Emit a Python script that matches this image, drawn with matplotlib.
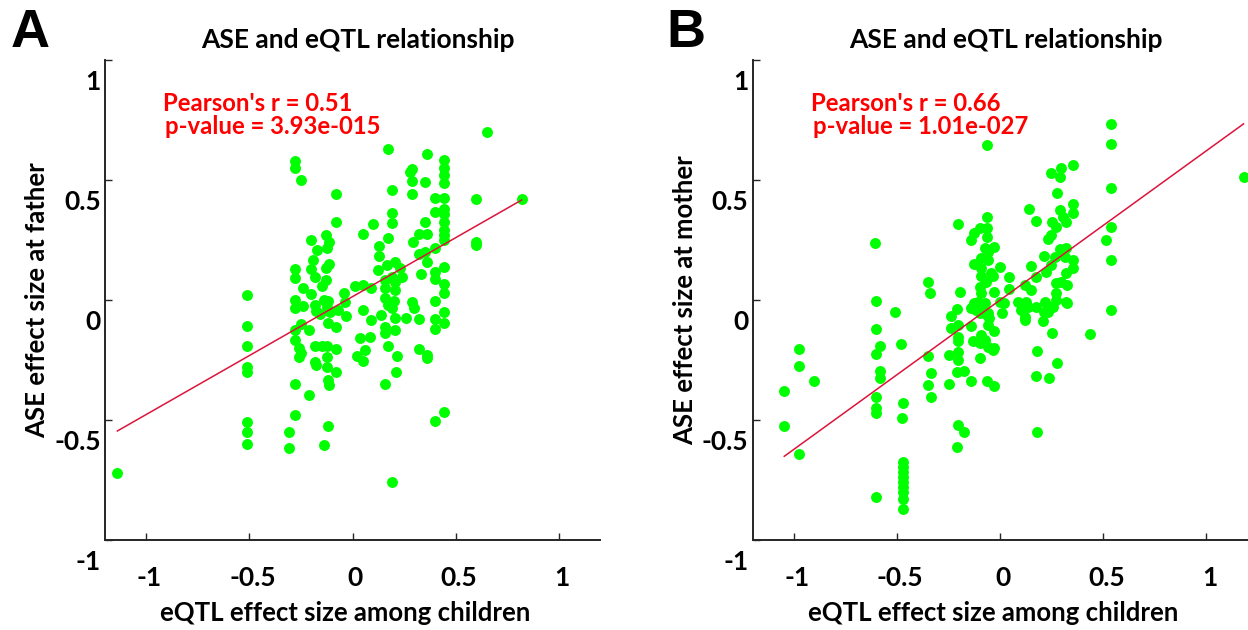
import numpy as np
import matplotlib
matplotlib.use("Agg")
import matplotlib.pyplot as plt
from matplotlib.transforms import ScaledTranslation

plt.rcParams['font.family'] = ['Lato', 'DejaVu Sans']
plt.rcParams['font.weight'] = 'bold'

# ---- data ----
# (eQTL effect among children, ASE effect at father)
father_pts = np.array([
    (-1.14, -0.72), (0.19, -0.76), (0.82, 0.42), (0.65, 0.70),
    (0.60, 0.42), (0.60, 0.24), (0.60, 0.23),
    (-0.51, 0.02), (-0.51, -0.11), (-0.51, -0.19), (-0.51, -0.28), (-0.51, -0.30),
    (-0.51, -0.51), (-0.51, -0.55), (-0.51, -0.60),
    (-0.31, -0.55), (-0.31, -0.615),
    (-0.28, 0.58), (-0.28, 0.55), (-0.25, 0.50),
    (-0.28, 0.13), (-0.28, 0.09), (-0.24, 0.05), (-0.28, 0.00), (-0.28, -0.035),
    (-0.24, -0.025), (-0.25, -0.10), (-0.28, -0.125), (-0.28, -0.167), (-0.26, -0.20),
    (-0.25, -0.22), (-0.26, -0.236), (-0.28, -0.35), (-0.28, -0.48),
    (-0.20, 0.25), (-0.13, 0.27), (-0.115, 0.24), (-0.126, 0.215), (-0.17, 0.21),
    (-0.19, 0.167), (-0.20, 0.13), (-0.115, 0.15), (-0.13, 0.135), (-0.18, 0.097),
    (-0.13, 0.083), (-0.15, 0.06), (-0.20, 0.024), (-0.14, 0.00), (-0.12, -0.004),
    (-0.18, -0.02), (-0.175, -0.045), (-0.13, -0.007), (-0.126, -0.028), (-0.16, -0.06),
    (-0.11, -0.05), (-0.07, -0.04), (-0.037, -0.007), (-0.03, -0.067), (-0.12, -0.097),
    (-0.08, -0.114), (-0.21, -0.125),
    (-0.18, -0.19), (-0.15, -0.19), (-0.126, -0.19), (-0.18, -0.257), (-0.175, -0.27),
    (-0.126, -0.236), (-0.126, -0.278), (-0.08, -0.204), (-0.08, -0.30), (-0.12, -0.333),
    (-0.115, -0.354), (-0.21, -0.396), (-0.12, -0.525), (-0.137, -0.604),
    (-0.08, 0.44), (-0.08, 0.326),
    (-0.04, 0.03), (0.01, 0.058), (0.05, 0.063), (0.09, 0.049),
    (0.17, 0.63), (0.36, 0.61),
    (0.29, 0.545), (0.28, 0.535), (0.29, 0.496), (0.29, 0.44), (0.35, 0.493),
    (0.19, 0.458), (0.19, 0.364), (0.19, 0.322),
    (0.10, 0.317), (0.05, 0.274), (0.17, 0.257), (0.13, 0.226), (0.13, 0.185),
    (0.125, 0.125), (0.165, 0.146), (0.205, 0.16), (0.23, 0.132), (0.24, 0.097),
    (0.19, 0.097), (0.157, 0.083), (0.205, 0.076), (0.205, 0.042), (0.157, 0.049),
    (0.157, 0.007), (0.20, -0.004),
    (0.40, 0.424), (0.40, 0.368), (0.35, 0.326), (0.32, 0.274), (0.36, 0.274),
    (0.295, 0.24), (0.40, 0.218), (0.32, 0.19), (0.35, 0.20), (0.36, 0.16), (0.33, 0.107),
    (0.40, 0.118), (0.40, 0.088), (0.29, -0.007), (0.40, -0.004),
    (0.445, 0.583), (0.445, 0.551), (0.445, 0.521), (0.445, 0.486), (0.445, 0.426),
    (0.445, 0.379), (0.445, 0.357), (0.445, 0.324), (0.445, 0.292), (0.445, 0.271),
    (0.445, 0.25), (0.445, 0.139), (0.445, 0.067), (0.445, 0.03), (0.445, -0.049),
    (0.445, -0.097), (0.445, -0.465),
    (0.40, -0.079), (0.40, -0.121), (0.40, -0.504),
    (0.05, -0.042), (0.09, -0.083), (0.14, -0.063), (0.17, -0.021), (0.19, -0.032),
    (0.157, -0.111), (0.157, -0.136), (0.205, -0.074), (0.205, -0.125), (0.26, -0.074),
    (0.30, -0.032), (0.32, -0.079),
    (0.036, -0.16), (0.084, -0.155), (0.06, -0.208), (0.02, -0.232), (0.05, -0.253),
    (0.17, -0.19), (0.217, -0.233), (0.21, -0.30), (0.157, -0.351), (0.32, -0.204),
    (0.36, -0.229), (0.36, -0.243),
])

# (eQTL effect among children, ASE effect at mother)
mother_pts = np.array([
    (-1.047, -0.378), (-1.047, -0.525), (-0.974, -0.205), (-0.974, -0.275),
    (-0.904, -0.336), (-0.974, -0.643),
    (-0.605, 0.239), (-0.60, -0.005), (-0.60, -0.121), (-0.585, -0.192), (-0.60, -0.226),
    (-0.585, -0.296), (-0.585, -0.324), (-0.60, -0.403), (-0.60, -0.449), (-0.60, -0.472),
    (-0.60, -0.82),
    (-0.51, -0.049), (-0.48, -0.185), (-0.472, -0.431), (-0.476, -0.49),
    (-0.472, -0.674), (-0.472, -0.694), (-0.472, -0.715), (-0.472, -0.736),
    (-0.472, -0.757), (-0.472, -0.778), (-0.472, -0.799), (-0.472, -0.83), (-0.472, -0.872),
    (-0.35, 0.076), (-0.338, 0.028), (-0.35, -0.233), (-0.335, -0.306), (-0.35, -0.354),
    (-0.335, -0.403),
    (-0.205, 0.315), (-0.197, 0.035), (-0.209, -0.039), (-0.238, -0.065), (-0.238, -0.118),
    (-0.205, -0.104), (-0.205, -0.155), (-0.205, -0.17), (-0.25, -0.229), (-0.205, -0.215),
    (-0.205, -0.25), (-0.209, -0.299), (-0.176, -0.294), (-0.25, -0.351), (-0.205, -0.521),
    (-0.176, -0.551), (-0.209, -0.611),
    (-0.063, 0.646), (-0.063, 0.347), (-0.10, 0.299), (-0.125, 0.278), (-0.144, 0.25),
    (-0.063, 0.299), (-0.063, 0.264), (-0.028, 0.222), (-0.076, 0.215), (-0.06, 0.201),
    (-0.092, 0.174), (-0.06, 0.167), (-0.128, 0.149), (-0.092, 0.132), (-0.044, 0.111),
    (-0.095, 0.10), (-0.068, 0.076), (-0.035, 0.10), (-0.10, 0.056), (-0.092, 0.028),
    (-0.028, 0.035), (-0.108, -0.007), (-0.133, -0.028), (-0.076, -0.014), (-0.06, -0.056),
    (-0.10, -0.056), (-0.141, -0.035), (-0.117, -0.042), (-0.125, -0.011), (-0.092, -0.028),
    (-0.063, -0.063), (-0.141, -0.108), (-0.133, -0.17), (-0.092, -0.146), (-0.10, -0.18),
    (-0.076, -0.167), (-0.06, -0.194), (-0.035, -0.208), (-0.028, -0.2), (-0.028, -0.128),
    (-0.06, -0.104), (-0.052, -0.076), (-0.141, -0.336), (-0.063, -0.336), (-0.028, -0.358),
    (-0.10, -0.24),
    (0.0, 0.136), (0.045, 0.097), (0.042, 0.044), (0.0, -0.007), (0.02, -0.014),
    (0.008, -0.056), (0.086, -0.007), (0.126, -0.007), (0.102, -0.042), (0.134, -0.028),
    (0.175, -0.028), (0.118, -0.069), (0.121, -0.083), (0.138, 0.379), (0.175, 0.329),
    (0.15, 0.14), (0.175, 0.097), (0.121, 0.063), (0.15, 0.042), (0.21, 0.183),
    (0.18, -0.211), (0.173, -0.317), (0.18, -0.551),
    (0.353, 0.563), (0.296, 0.549), (0.244, 0.53), (0.291, 0.511), (0.275, 0.447),
    (0.353, 0.40), (0.353, 0.361), (0.32, 0.326), (0.288, 0.375), (0.304, 0.347),
    (0.25, 0.326), (0.272, 0.305), (0.248, 0.271), (0.231, 0.253), (0.288, 0.211),
    (0.32, 0.215), (0.264, 0.18), (0.312, 0.18), (0.353, 0.167), (0.353, 0.132),
    (0.32, 0.111), (0.296, 0.076), (0.272, 0.069), (0.325, 0.063), (0.272, 0.03),
    (0.272, 0.0), (0.32, -0.007), (0.248, 0.146), (0.223, 0.118), (0.215, -0.007),
    (0.24, -0.03), (0.231, -0.049), (0.212, -0.049), (0.256, -0.028), (0.207, -0.086),
    (0.325, -0.011), (0.252, -0.139), (0.275, -0.264), (0.238, -0.324),
    (0.434, -0.143), (0.539, 0.733), (0.539, 0.65), (0.539, 0.465), (0.539, 0.305),
    (0.511, 0.25), (0.539, 0.167), (0.539, -0.042),
    (1.18, 0.514),
])

# regression lines (slope, intercept) as drawn in the reference
father_fit = (0.491, 0.014)
mother_fit = (0.622, 0.0)

father_stats = ["Pearson's r = 0.51", "p-value = 3.93e-015"]
mother_stats = ["Pearson's r = 0.66", "p-value = 1.01e-027"]

ticks = [-1, -0.5, 0, 0.5, 1]
tick_labels = ["-1", "-0.5", "0", "0.5", "1"]

W, H = 1248, 630
fig = plt.figure(figsize=(W / 100, H / 100), dpi=100)

ax_w, ax_h = 495 / W, 480 / H
ax_b = 90 / H
axA = fig.add_axes([105 / W, ax_b, ax_w, ax_h])
axB = fig.add_axes([752.7 / W, ax_b, ax_w, ax_h])

line_col = '#DC143C'
green = '#00FF00'


def draw_panel(ax, pts, fit, stats, ylabel, letter, letter_x):
    ax.scatter(pts[:, 0], pts[:, 1], s=62, c=green, linewidths=0, zorder=2)
    xs = np.array([pts[:, 0].min(), pts[:, 0].max()])
    ax.plot(xs, fit[0] * xs + fit[1], color=line_col, lw=1.1, zorder=3)

    ax.set_xlim(-1.2, 1.2)
    ax.set_ylim(-1, 1)
    for s in ['top', 'right']:
        ax.spines[s].set_visible(False)
    for s in ['left', 'bottom']:
        ax.spines[s].set_color('#262626')
        ax.spines[s].set_linewidth(1.4)

    ax.set_xticks(ticks)
    ax.set_xticklabels(tick_labels)
    ax.set_yticks(ticks)
    ax.set_yticklabels(tick_labels)
    ax.tick_params(direction='in', length=5, width=1.0, color='#262626',
                   labelsize=19, labelcolor='black')
    ax.tick_params(axis='x', pad=19)
    ax.tick_params(axis='y', pad=3)

    # labels in the reference sit below/right of their ticks
    dy = ScaledTranslation(0, -0.20, fig.dpi_scale_trans)
    for lab in ax.get_yticklabels():
        lab.set_transform(lab.get_transform() + dy)
        lab.set_fontweight('bold')
    dx = ScaledTranslation(0.03, 0, fig.dpi_scale_trans)
    for lab in ax.get_xticklabels():
        lab.set_transform(lab.get_transform() + dx)
        lab.set_fontweight('bold')

    ax.set_xlabel('eQTL effect size among children', fontsize=18.5, fontweight='bold', va='center')
    ax.xaxis.set_label_coords(240 / 495, -73 / 480)
    ax.set_ylabel(ylabel, fontsize=18.5, fontweight='bold', va='center')
    ax.yaxis.set_label_coords(-68 / 495, 0.5)

    ax.text(0.511, 1.0417, 'ASE and eQTL relationship', transform=ax.transAxes,
            ha='center', va='center', fontsize=19, fontweight='bold')

    ax.text(58 / 495, (540 - 111) / 480, stats[0], transform=ax.transAxes,
            ha='left', va='baseline', fontsize=17.2, fontweight='bold', color='#FF0000')
    ax.text(60 / 495, (540 - 134) / 480, stats[1], transform=ax.transAxes,
            ha='left', va='baseline', fontsize=17.2, fontweight='bold', color='#FF0000')

    fig.text(letter_x / W, 1 - 47 / H, letter, ha='left', va='baseline',
             fontsize=39, fontweight='bold', family=['Liberation Sans', 'DejaVu Sans'])


draw_panel(axA, father_pts, father_fit, father_stats, 'ASE effect size at father', 'A', 11)
draw_panel(axB, mother_pts, mother_fit, mother_stats, 'ASE effect size at mother', 'B', 666)

fig.savefig('out.png', dpi=100)
